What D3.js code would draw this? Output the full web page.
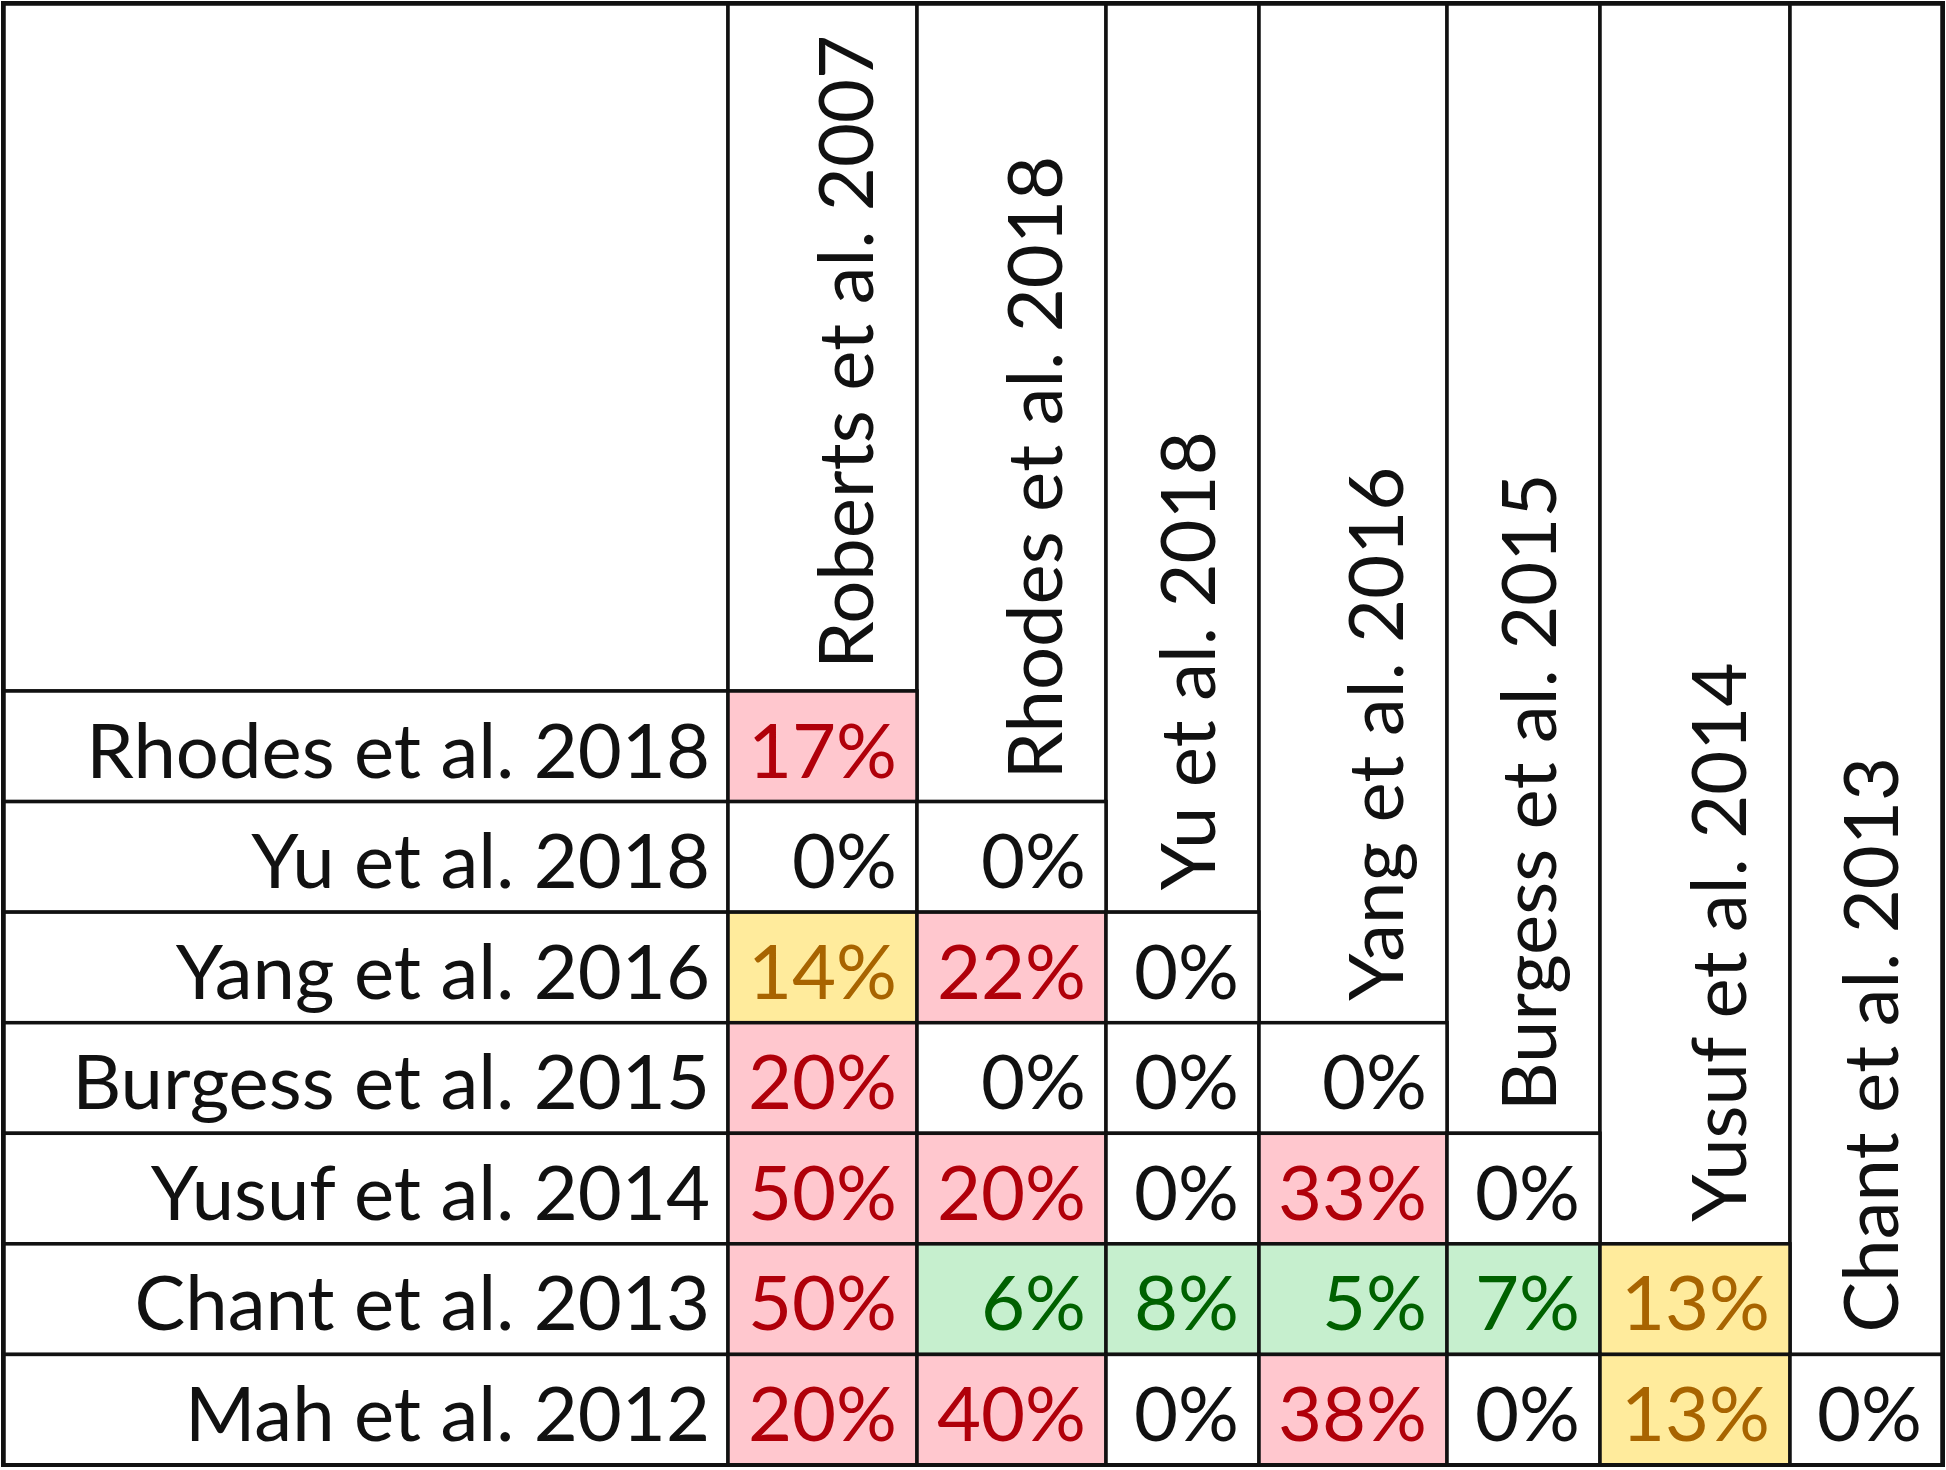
<!DOCTYPE html>
<html>
<head>
<meta charset="utf-8">
<script src="https://cdn.jsdelivr.net/npm/d3@7"></script>
<style>
  html, body { margin: 0; padding: 0; background: #fff; }
  svg { display: block; }
  text { font-family: Lato, 'Open Sans', sans-serif; }
</style>
</head>
<body>
<svg></svg>
<script>
const w = 1946
const h = 1470

// studies across the top (columns) and down the side (rows)
const columns = ['Roberts et al. 2007', 'Rhodes et al. 2018', 'Yu et al. 2018', 'Yang et al. 2016',
  'Burgess et al. 2015', 'Yusuf et al. 2014', 'Chant et al. 2013']
const rows = ['Rhodes et al. 2018', 'Yu et al. 2018', 'Yang et al. 2016', 'Burgess et al. 2015',
  'Yusuf et al. 2014', 'Chant et al. 2013', 'Mah et al. 2012']

// overlap in percent, one array per row (lower triangle)
const rhodes2018 = [17]
const yu2018 = [0, 0]
const yang2016 = [14, 22, 0]
const burgess2015 = [20, 0, 0, 0]
const yusuf2014 = [50, 20, 0, 33, 0]
const chant2013 = [50, 6, 8, 5, 7, 13]
const mah2012 = [20, 40, 0, 38, 0, 13, 0]
const values = [rhodes2018, yu2018, yang2016, burgess2015, yusuf2014, chant2013, mah2012]

// layout
const x0 = 4
const labelW = 724
const y0 = 4
const headerBottom = 691
const colW = [189, 189, 153, 188, 153, 190, 152]
const fs = 76
const sw = 3.5

const colEdges = d3.cumsum([x0 + labelW].concat(colW))
const xLeft = d3.scaleOrdinal().domain(columns).range(colEdges.slice(0, columns.length))
const xRight = d3.scaleOrdinal().domain(columns).range(colEdges.slice(1))
const y = d3.scaleBand().domain(rows).range([headerBottom, h - 5])

const fill = d3.scaleThreshold().domain([1, 10, 15]).range(['#ffffff', '#c6efce', '#ffeb9c', '#ffc7ce'])
const ink = d3.scaleThreshold().domain([1, 10, 15]).range(['#111111', '#006100', '#a86400', '#b0000a'])

const cells = values.flatMap((r, i) => r.map((v, j) => ({ row: rows[i], col: columns[j], v })))

const svg = d3.select('svg').attr('width', w).attr('height', h)

svg.append('rect').attr('width', w).attr('height', h).attr('fill', '#fff')

// blank corner
svg.append('rect')
  .attr('x', x0).attr('y', y0)
  .attr('width', labelW).attr('height', headerBottom - y0)
  .attr('fill', '#fff').attr('stroke', '#111').attr('stroke-width', sw)

// column headers, each ending where its first row starts
const heads = svg.selectAll('g.head')
  .data(columns)
  .enter()
  .append('g')
  .attr('class', 'head')

heads.append('rect')
  .attr('x', d => xLeft(d))
  .attr('y', y0)
  .attr('width', d => xRight(d) - xLeft(d))
  .attr('height', (d, i) => y(rows[i]) - y0)
  .attr('fill', '#fff')
  .attr('stroke', '#111')
  .attr('stroke-width', sw)

heads.append('text')
  .attr('transform', (d, i) => `translate(${xRight(d) - 44}, ${y(rows[i]) - 22}) rotate(-90)`)
  .attr('font-size', fs)
  .attr('fill', '#111')
  .text(d => d)

// row labels
const labs = svg.selectAll('g.lab')
  .data(rows)
  .enter()
  .append('g')
  .attr('class', 'lab')

labs.append('rect')
  .attr('x', x0)
  .attr('y', d => y(d))
  .attr('width', labelW)
  .attr('height', y.bandwidth())
  .attr('fill', '#fff')
  .attr('stroke', '#111')
  .attr('stroke-width', sw)

labs.append('text')
  .attr('x', x0 + labelW - 18)
  .attr('y', d => y(d) + y.bandwidth() - 24)
  .attr('text-anchor', 'end')
  .attr('font-size', fs)
  .attr('fill', '#111')
  .text(d => d)

// value cells
const cell = svg.selectAll('g.cell')
  .data(cells)
  .enter()
  .append('g')
  .attr('class', 'cell')

cell.append('rect')
  .attr('x', d => xLeft(d.col))
  .attr('y', d => y(d.row))
  .attr('width', d => xRight(d.col) - xLeft(d.col))
  .attr('height', y.bandwidth())
  .attr('fill', d => fill(d.v))
  .attr('stroke', '#111')
  .attr('stroke-width', sw)

cell.append('text')
  .attr('x', d => xRight(d.col) - 20)
  .attr('y', d => y(d.row) + y.bandwidth() - 24)
  .attr('text-anchor', 'end')
  .attr('font-size', fs)
  .attr('fill', d => ink(d.v))
  .text(d => d.v + '%')

// outer frame
svg.append('rect')
  .attr('x', 3).attr('y', 3)
  .attr('width', w - 6).attr('height', h - 8)
  .attr('fill', 'none')
  .attr('stroke', '#111')
  .attr('stroke-width', 4)
</script>
</body>
</html>
